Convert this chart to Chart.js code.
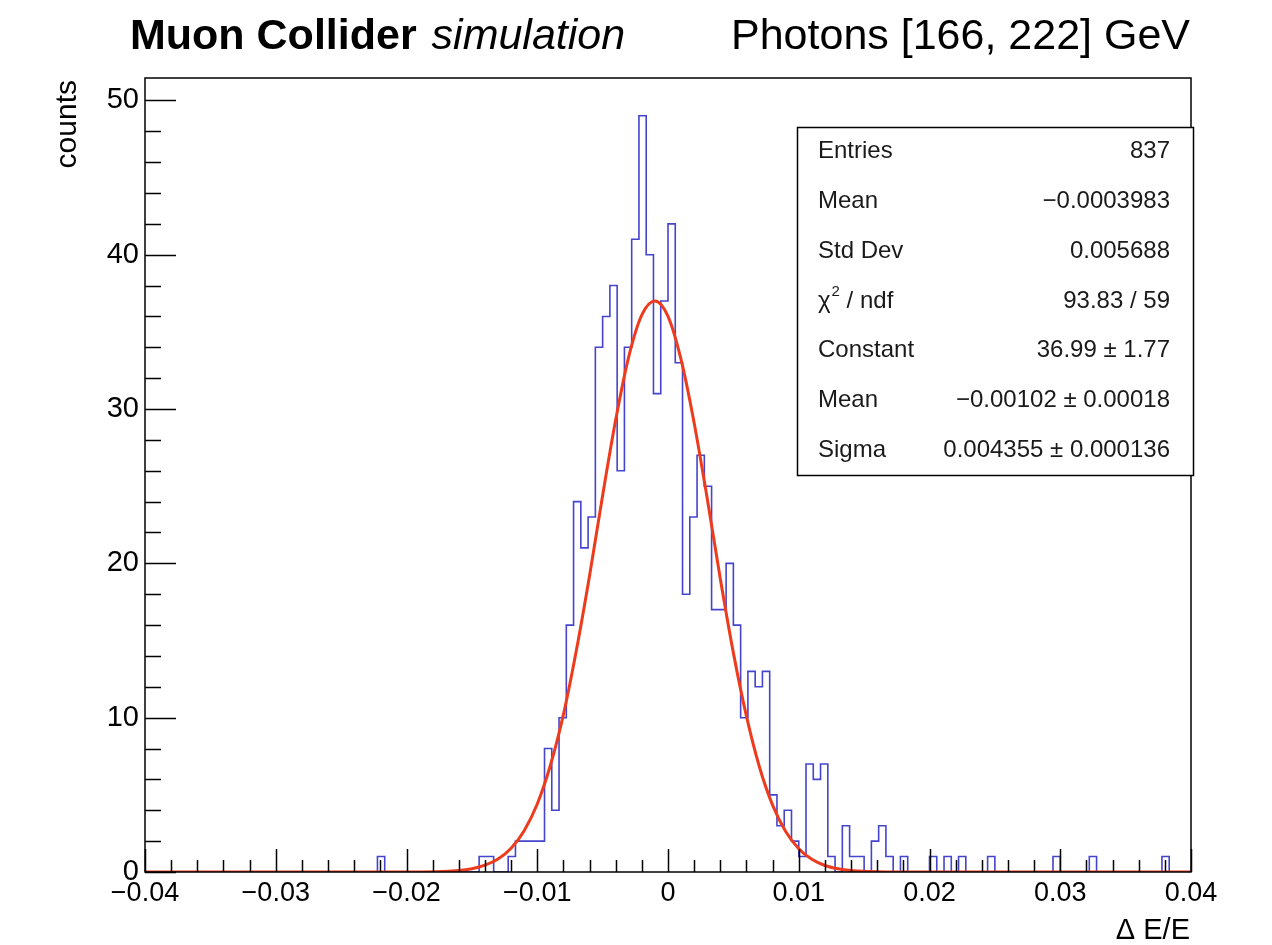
<!DOCTYPE html>
<html>
<head>
<meta charset="utf-8">
<title>Photons [166, 222] GeV</title>
<script src="https://cdn.jsdelivr.net/npm/chart.js@4.4.1/dist/chart.umd.min.js"></script>
<style>
  html, body { margin: 0; padding: 0; background: #fff; }
  #wrap { width: 1272px; height: 945px; }
</style>
</head>
<body>
<div id="wrap"><canvas id="histChart" width="1272" height="945"></canvas></div>
<script>
// rango del histograma (Delta E / E) y del eje y
const xRange = [-0.04, 0.04];
const yRange = [0, 51.45];
const xTickValues = [-0.04, -0.03, -0.02, -0.01, 0, 0.01, 0.02, 0.03, 0.04];
const yTickValues = [0, 10, 20, 30, 40, 50];

// cuentas por bin, 144 bins de -0.04 a 0.04
const binCounts = [
  0, 0, 0, 0, 0, 0, 0, 0, 0, 0, 0, 0, 0, 0, 0, 0,
  0, 0, 0, 0, 0, 0, 0, 0, 0, 0, 0, 0, 0, 0, 0, 0,
  1, 0, 0, 0, 0, 0, 0, 0, 0, 0, 0, 0, 0, 0, 1, 1,
  0, 0, 1, 2, 2, 2, 2, 8, 4, 10, 16, 24, 21, 23, 34, 36,
  38, 26, 34, 41, 49, 40, 31, 37, 42, 33, 18, 23, 27, 25, 17, 17,
  20, 16, 10, 13, 12, 13, 5, 3, 4, 2, 1, 7, 6, 7, 1, 0,
  3, 1, 1, 0, 2, 3, 1, 0, 1, 0, 0, 0, 1, 0, 1, 0,
  1, 0, 0, 0, 1, 0, 0, 0, 0, 0, 0, 0, 0, 1, 0, 0,
  0, 0, 1, 0, 0, 0, 0, 0, 0, 0, 0, 0, 1, 0, 0, 0
];

// curva del ajuste gaussiano
const fitX = [-0.04, -0.02, -0.016, -0.015, -0.014, -0.013, -0.012, -0.011, -0.010, -0.009,
  -0.008, -0.007, -0.006, -0.005, -0.004, -0.003, -0.002, -0.001, 0, 0.001,
  0.002, 0.003, 0.004, 0.005, 0.006, 0.007, 0.008, 0.009, 0.010, 0.011,
  0.012, 0.013, 0.014, 0.016, 0.02, 0.04];
const fitY = [0, 0, 0.10, 0.21, 0.44, 0.84, 1.54, 2.68, 4.41, 6.90,
  10.2, 14.4, 19.2, 24.4, 29.3, 33.4, 36.1, 37.0, 36.0, 33.2,
  29.1, 24.2, 19.0, 14.2, 10.1, 6.79, 4.33, 2.62, 1.51, 0.82,
  0.42, 0.21, 0.10, 0.02, 0, 0];

// caja de estadisticas
const statLabels = ['Entries', 'Mean', 'Std Dev', 'chi2', 'Constant', 'Mean', 'Sigma'];
const statValues = ['837', '\u22120.0003983', '0.005688', '93.83 / 59',
  '36.99 \u00b1 1.77', '\u22120.00102 \u00b1 0.00018', '0.004355 \u00b1 0.000136'];

const FONT = '"Liberation Sans", Arial, Helvetica, sans-serif';

function fmtTick(v) {
  if (Math.abs(v) < 1e-9) return '0';
  const s = Math.abs(v).toFixed(2);
  return v < 0 ? '\u2212' + s : s;
}

function buildHistPoints() {
  const w = (xRange[1] - xRange[0]) / binCounts.length;
  const pts = [{ x: xRange[0], y: 0 }];
  binCounts.forEach((c, i) => pts.push({ x: xRange[0] + i * w, y: c }));
  pts.push({ x: xRange[1], y: 0 });
  return pts;
}

// ejes al estilo ROOT: marco, ticks hacia dentro, titulos y caja de stats
const rootStyle = {
  id: 'rootStyle',
  afterDraw(chart) {
    const c = chart.ctx;
    const a = chart.chartArea;
    const xs = chart.scales.x;
    const ys = chart.scales.y;
    c.save();

    c.strokeStyle = '#000';
    c.lineWidth = 1.5;
    c.strokeRect(a.left, a.top, a.right - a.left, a.bottom - a.top);

    c.beginPath();
    for (let i = 0; i <= 40; i++) {
      const px = Math.round(xs.getPixelForValue(xRange[0] + i * 0.002)) + 0.5;
      const len = i % 5 === 0 ? 23 : 12;
      c.moveTo(px, a.bottom);
      c.lineTo(px, a.bottom - len);
    }
    for (let v = 0; v <= 50; v += 2) {
      const py = Math.round(ys.getPixelForValue(v)) + 0.5;
      const len = v % 10 === 0 ? 31 : 16;
      c.moveTo(a.left, py);
      c.lineTo(a.left + len, py);
    }
    c.stroke();

    // titulo
    c.fillStyle = '#000';
    c.textBaseline = 'alphabetic';
    c.textAlign = 'left';
    c.font = 'bold 43px ' + FONT;
    c.fillText('Muon Collider', 130, 49);
    const w1 = c.measureText('Muon Collider ').width;
    c.font = 'italic 43px ' + FONT;
    c.fillText('simulation', 133 + w1, 49);
    c.font = '43px ' + FONT;
    c.textAlign = 'right';
    c.fillText('Photons [166, 222] GeV', 1190, 49);

    // titulos de ejes
    c.font = '29px ' + FONT;
    c.fillText('\u0394 E/E', 1190, 939);
    c.save();
    c.font = '30px ' + FONT;
    c.translate(76, a.top + 2);
    c.rotate(-Math.PI / 2);
    c.textAlign = 'right';
    c.fillText('counts', 0, 0);
    c.restore();

    // caja de estadisticas
    const bx = 797, by = 127, bw = 396, bh = 348;
    c.fillStyle = '#fff';
    c.fillRect(bx, by, bw, bh);
    c.strokeStyle = '#000';
    c.lineWidth = 1.5;
    c.strokeRect(bx + 0.5, by + 0.5, bw, bh);
    c.fillStyle = '#1a1a1a';
    c.font = '24px ' + FONT;
    c.textBaseline = 'middle';
    const rowH = bh / statLabels.length;
    statLabels.forEach((lab, i) => {
      const yy = by + rowH * (i + 0.5);
      c.textAlign = 'left';
      if (lab === 'chi2') {
        c.fillText('\u03c7', 818, yy);
        const cw = c.measureText('\u03c7').width;
        c.font = '15px ' + FONT;
        c.fillText('2', 818 + cw + 1, yy - 9);
        const sw = c.measureText('2').width;
        c.font = '24px ' + FONT;
        c.fillText(' / ndf', 818 + cw + sw + 1, yy);
      } else {
        c.fillText(lab, 818, yy);
      }
      c.textAlign = 'right';
      c.fillText(statValues[i], 1170, yy);
    });
    c.restore();
  }
};

const ctx = document.getElementById('histChart');
const histChart = new Chart(ctx, {
  type: 'line',
  data: {
    datasets: [
      {
        label: 'fit',
        data: fitX.map((x, i) => ({ x: x, y: fitY[i] })),
        borderColor: '#ee3b1e',
        borderWidth: 3,
        pointRadius: 0,
        cubicInterpolationMode: 'monotone',
        fill: false,
        order: 1
      },
      {
        label: 'hist',
        data: buildHistPoints(),
        stepped: 'before', // horizontal primero, luego vertical (como ROOT)
        borderColor: '#4444cc',
        borderWidth: 1.6,
        pointRadius: 0,
        fill: false,
        order: 2
      }
    ]
  },
  options: {
    responsive: false,
    animation: false,
    devicePixelRatio: 1,
    layout: { padding: { left: 0, right: 81, top: 78, bottom: 0 } },
    plugins: {
      legend: { display: false },
      tooltip: { enabled: false },
      title: { display: false }
    },
    scales: {
      x: {
        type: 'linear',
        min: xRange[0],
        max: xRange[1],
        afterFit: s => { s.height = 73; },
        afterBuildTicks: s => { s.ticks = xTickValues.map(v => ({ value: v })); },
        grid: { display: false, drawTicks: false },
        border: { display: false },
        ticks: {
          color: '#000',
          padding: 5,
          maxRotation: 0,
          autoSkip: false,
          font: { family: FONT, size: 27 },
          callback: v => fmtTick(v)
        }
      },
      y: {
        type: 'linear',
        min: yRange[0],
        max: yRange[1],
        afterFit: s => { s.width = 145; },
        afterBuildTicks: s => { s.ticks = yTickValues.map(v => ({ value: v })); },
        grid: { display: false, drawTicks: false },
        border: { display: false },
        ticks: {
          color: '#000',
          padding: 6,
          font: { family: FONT, size: 29 },
          callback: v => String(v)
        }
      }
    }
  },
  plugins: [rootStyle]
});
</script>
</body>
</html>
